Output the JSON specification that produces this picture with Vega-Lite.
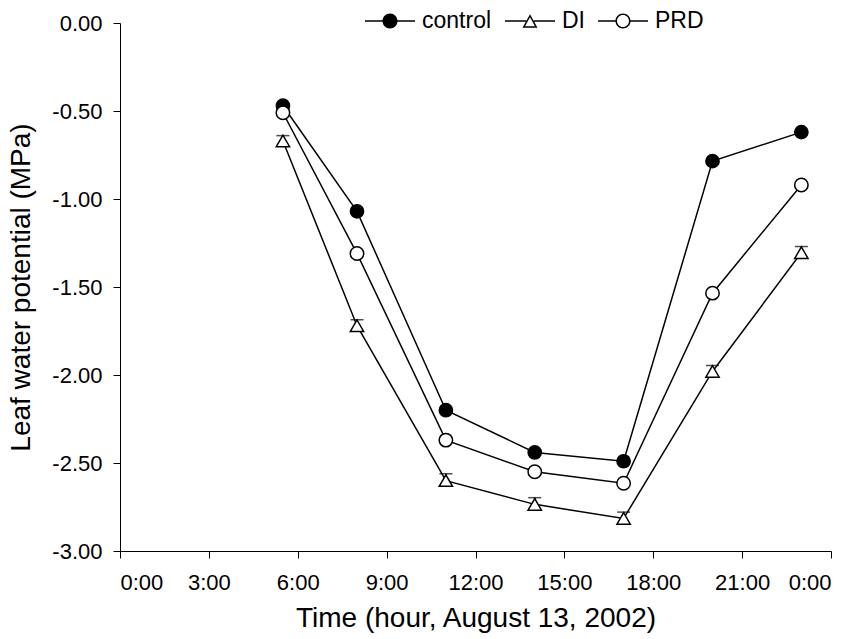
{
  "$schema": "https://vega.github.io/schema/vega-lite/v6.json",
  "width": 711,
  "height": 528,
  "autosize": {"type": "none"},
  "padding": {"left": 120, "top": 23, "right": 27, "bottom": 88},
  "background": "white",
  "data": {"values": [
    {"series": "control", "time": 5.5, "value": -0.47},
    {"series": "control", "time": 8, "value": -1.07},
    {"series": "control", "time": 11, "value": -2.2},
    {"series": "control", "time": 14, "value": -2.44},
    {"series": "control", "time": 17, "value": -2.49},
    {"series": "control", "time": 20, "value": -0.785},
    {"series": "control", "time": 23, "value": -0.62},
    {"series": "DI", "time": 5.5, "value": -0.67, "upper": -0.64},
    {"series": "DI", "time": 8, "value": -1.72, "upper": -1.686},
    {"series": "DI", "time": 11, "value": -2.6, "upper": -2.561},
    {"series": "DI", "time": 14, "value": -2.735, "upper": -2.697},
    {"series": "DI", "time": 17, "value": -2.815, "upper": -2.779},
    {"series": "DI", "time": 20, "value": -1.98, "upper": -1.946},
    {"series": "DI", "time": 23, "value": -1.305, "upper": -1.27},
    {"series": "PRD", "time": 5.5, "value": -0.51},
    {"series": "PRD", "time": 8, "value": -1.31},
    {"series": "PRD", "time": 11, "value": -2.37},
    {"series": "PRD", "time": 14, "value": -2.55},
    {"series": "PRD", "time": 17, "value": -2.615},
    {"series": "PRD", "time": 20, "value": -1.535},
    {"series": "PRD", "time": 23, "value": -0.92}
  ]},
  "encoding": {
    "x": {
      "field": "time", "type": "quantitative",
      "scale": {"domain": [0, 24], "nice": false, "zero": false},
      "axis": {
        "values": [0, 3, 6, 9, 12, 15, 18, 21, 24],
        "labelExpr": "(datum.value % 24) + ':00'",
        "labelPadding": 14,
        "title": "Time (hour, August 13, 2002)",
        "titlePadding": 11
      }
    },
    "y": {
      "field": "value", "type": "quantitative",
      "scale": {"domain": [-3, 0], "nice": false, "zero": false},
      "axis": {
        "values": [0, -0.5, -1, -1.5, -2, -2.5, -3],
        "labelExpr": "replace(format(datum.value, '.2f'), '\u2212', '-')",
        "labelPadding": 11,
        "title": "Leaf water potential (MPa)",
        "titlePadding": 16
      }
    }
  },
  "layer": [
    {
      "mark": {"type": "line", "stroke": "black", "strokeWidth": 1.5},
      "encoding": {"detail": {"field": "series"}}
    },
    {
      "transform": [{"filter": "datum.series === 'DI'"}],
      "mark": {"type": "rule", "stroke": "black", "strokeWidth": 1.5},
      "encoding": {"y2": {"field": "upper"}}
    },
    {
      "transform": [{"filter": "datum.series === 'DI'"}],
      "mark": {"type": "tick", "orient": "horizontal", "color": "black", "size": 13, "thickness": 1.5},
      "encoding": {"y": {"field": "upper", "type": "quantitative"}}
    },
    {
      "mark": {"type": "point", "filled": true, "stroke": "black", "strokeWidth": 1.5, "opacity": 1},
      "encoding": {
        "shape": {
          "field": "series", "type": "nominal",
          "scale": {"domain": ["control", "DI", "PRD"], "range": ["circle", "triangle-up", "circle"]},
          "legend": null
        },
        "fill": {
          "field": "series", "type": "nominal",
          "scale": {"domain": ["control", "DI", "PRD"], "range": ["black", "white", "white"]},
          "legend": null
        },
        "size": {
          "field": "series", "type": "nominal",
          "scale": {"domain": ["control", "DI", "PRD"], "range": [175, 180, 170]},
          "legend": null
        }
      }
    },
    {
      "transform": [{"filter": "false"}],
      "mark": {"type": "point", "filled": true, "color": "black", "strokeWidth": 0, "opacity": 1},
      "encoding": {
        "shape": {
          "field": "series", "type": "nominal",
          "scale": {"domain": ["control", "DI", "PRD"], "range": [
            "M-1,-0.03H-0.28V0.03H-1Z M0.28,-0.03H1V0.03H0.28Z M-0.3,0A0.3,0.3 0 1,1 0.3,0A0.3,0.3 0 1,1 -0.3,0Z",
            "M-1,-0.03H-0.15V0.03H-1Z M0.15,-0.03H1V0.03H0.15Z M-0.3,0.27L0,-0.27L0.3,0.27Z M-0.198,0.21L0.198,0.21L0,-0.146Z",
            "M-1,-0.03H-0.28V0.03H-1Z M0.28,-0.03H1V0.03H0.28Z M-0.3,0A0.3,0.3 0 1,1 0.3,0A0.3,0.3 0 1,1 -0.3,0Z M-0.24,0A0.24,0.24 0 1,0 0.24,0A0.24,0.24 0 1,0 -0.24,0Z"
          ]},
          "legend": {
            "title": null, "orient": "none", "direction": "horizontal",
            "legendX": 245, "legendY": -27,
            "symbolSize": 2500,
            "symbolStrokeWidth": 0,
            "symbolFillColor": "black"
          }
        }
      }
    }
  ],
  "resolve": {"scale": {"shape": "independent", "fill": "independent", "size": "independent"}},
  "config": {
    "view": {"stroke": null},
    "font": "Liberation Sans",
    "axis": {
      "grid": false,
      "domainColor": "black",
      "domainWidth": 1,
      "tickColor": "black",
      "tickSize": 7,
      "tickWidth": 1,
      "labelColor": "black",
      "labelFont": "Liberation Sans",
      "labelFontSize": 22,
      "titleColor": "black",
      "titleFont": "Liberation Sans",
      "titleFontSize": 28,
      "titleFontWeight": "normal"
    },
    "legend": {
      "symbolSize": 2500,
      "symbolOpacity": 1,
      "labelFont": "Liberation Sans",
      "labelFontSize": 23,
      "labelColor": "black",
      "labelOffset": 7,
      "columnPadding": 13,
      "padding": 0
    }
  }
}
